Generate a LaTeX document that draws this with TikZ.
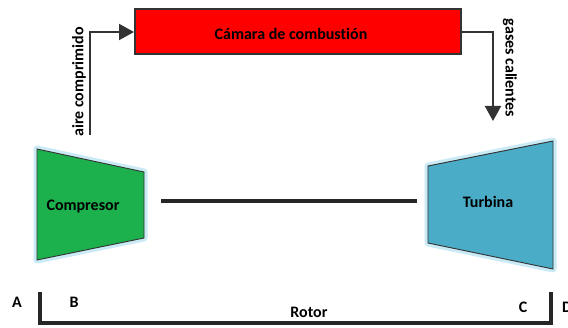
\documentclass[tikz,border=0pt]{standalone}
\usepackage{fontspec}
\setmainfont[Ligatures=NoCommon]{Carlito}
\usetikzlibrary{arrows.meta}
\definecolor{camred}{HTML}{FE0000}
\definecolor{compgreen}{HTML}{1CB14D}
\definecolor{turbblue}{HTML}{4AACC6}
\definecolor{edge}{HTML}{333333}
\definecolor{glow}{HTML}{9ED8EC}
\tikzset{
  lbl/.style={font=\fontsize{16}{19}\selectfont\bfseries, text=black, inner sep=0pt},
  flow/.style={draw=edge, line width=2pt, -{Triangle[length=15pt,width=16pt]}},
  thick line/.style={draw=black!85, line width=3.2pt},
  halo/.style={draw=glow, line width=7pt, line join=round, opacity=0.55},
  machine/.style={draw=edge, line width=0.9pt, line join=miter},
}
\begin{document}
\begin{tikzpicture}[x=1pt,y=-1pt]
\useasboundingbox (0,0) rectangle (568,328);
% combustion chamber
\node[draw=edge, line width=2pt, fill=camred, minimum width=326pt, minimum height=45pt, inner sep=0pt] (cam) at (298,32) {};
\node[lbl] (camtxt) at (291,34) {Cámara de combustión};
% compressor
\coordinate (c1) at (37,149); \coordinate (c2) at (144,172);
\coordinate (c3) at (144,238); \coordinate (c4) at (37,260);
\path[halo] (c1) -- (c2) -- (c3) -- (c4) -- cycle;
\path[machine, fill=compgreen] (c1) -- (c2) -- (c3) -- (c4) -- cycle;
\node[lbl] (comp) at (83,207) {Compresor};
% turbine
\coordinate (t1) at (428,166); \coordinate (t2) at (553,141);
\coordinate (t3) at (553,269); \coordinate (t4) at (428,243);
\path[halo] (t1) -- (t2) -- (t3) -- (t4) -- cycle;
\path[machine, fill=turbblue] (t1) -- (t2) -- (t3) -- (t4) -- cycle;
\node[lbl] (turb) at (488,202) {Turbina};
% shaft
\coordinate (s1) at (161,201); \coordinate (s2) at (417,201);
\draw[thick line] (s1) -- (s2);
% air arrow
\coordinate (a0) at (90,135);
\draw[flow] (a0) |- (cam.west);
\node[lbl, rotate=90] (aire) at (79,82) {aire comprimido};
% gas arrow
\coordinate (g1) at (493,121);
\draw[flow] (cam.east) -| (g1);
\node[lbl, rotate=-90] (gases) at (510,68) {gases calientes};
% rotor bracket
\coordinate (r1) at (40,292); \coordinate (r2) at (40,323);
\coordinate (r3) at (551,323); \coordinate (r4) at (551,292);
\draw[thick line, line join=miter] (r1) -- (r2) -- (r3) -- (r4);
\node[lbl] (rotor) at (309,312) {Rotor};
\node[lbl] (A) at (17,302) {A};
\node[lbl] (B) at (74,302) {B};
\node[lbl] (C) at (523,307) {C};
\node[lbl, anchor=west] (D) at (562,307) {D};
\end{tikzpicture}
\end{document}
